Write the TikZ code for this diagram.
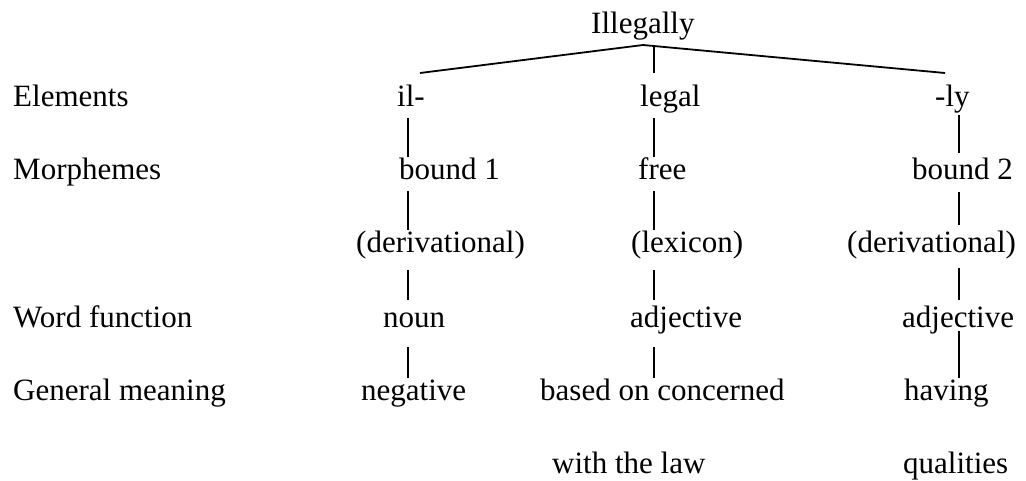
\documentclass[tikz,border=0pt]{standalone}
\usepackage{fontspec}
\setmainfont{Liberation Serif}
\begin{document}
\begin{tikzpicture}[x=1pt,y=-1pt,
  word/.style={anchor=base west,inner sep=0pt,text height=22pt,text depth=7pt,
    font=\fontsize{31}{31}\selectfont},
  stem/.style={line width=1.8pt},
  link/.style={line width=1.8pt,shorten <=5pt}]
\useasboundingbox (0,0) rectangle (1026,480);
% row labels
\node[word] (lElem) at (13,106) {Elements};
\node[word] (lMorph) at (13,179) {Morphemes};
\node[word] (lFunc) at (13,327) {Word function};
\node[word] (lMean) at (13,400) {General meaning};
% root
\node[word] (root) at (591,33) {Illegally};
% left branch
\node[word] (il) at (397,106) {il-};
\node[word] (bA) at (399,179) {bound 1};
\node[word] (dA) at (356,252) {(derivational)};
\node[word] (nA) at (383,327) {noun};
\node[word] (gA) at (361,400) {negative};
% middle branch
\node[word] (lg) at (640,106) {legal};
\node[word] (fr) at (638,179) {free};
\node[word] (lx) at (631,252) {(lexicon)};
\node[word] (aB) at (630,327) {adjective};
\node[word] (gB) at (540,400) {based on concerned};
\node[word] (gB2) at (552,473) {with the law};
% right branch
\node[word] (ly) at (935,106) {-ly};
\node[word] (bC) at (912,179) {bound 2};
\node[word] (dC) at (847,252) {(derivational)};
\node[word] (aC) at (902,327) {adjective};
\node[word] (gC) at (904,400) {having};
\node[word] (gC2) at (903,473) {qualities};
% column axes and branch points
\coordinate (xL) at (408,0);
\coordinate (xM) at (654,0);
\coordinate (xR) at (959,0);
\coordinate (apex) at (643,45);
\coordinate (endL) at (420,73);
\coordinate (endR) at (945,73);
% top of the tree
\draw[stem] (endL) -- (apex) -- (endR);
\draw[stem] (apex -| xM) -- (endL -| xM);
% left column
\draw[link] (il.south -| xL) -- (bA.north -| xL);
\draw[link] (bA.south -| xL) -- (dA.north -| xL);
\draw[link,shorten <=11pt,shorten >=5pt] (dA.south -| xL) -- (nA.north -| xL);
\draw[link,shorten <=13pt] (nA.south -| xL) -- (gA.north -| xL);
% middle column
\draw[link] (lg.south -| xM) -- (fr.north -| xM);
\draw[link] (fr.south -| xM) -- (lx.north -| xM);
\draw[link,shorten <=11pt,shorten >=5pt] (lx.south -| xM) -- (aB.north -| xM);
\draw[link,shorten <=13pt] (aB.south -| xM) -- (gB.north -| xM);
% right column
\draw[link,shorten <=2pt,shorten >=4pt] (ly.south -| xR) -- (bC.north -| xR);
\draw[link,shorten <=6pt,shorten >=5pt] (bC.south -| xR) -- (dC.north -| xR);
\draw[link,shorten <=9pt,shorten >=5pt] (dC.south -| xR) -- (aC.north -| xR);
\draw[link,shorten <=-3pt] (aC.south -| xR) -- (gC.north -| xR);
\end{tikzpicture}
\end{document}
